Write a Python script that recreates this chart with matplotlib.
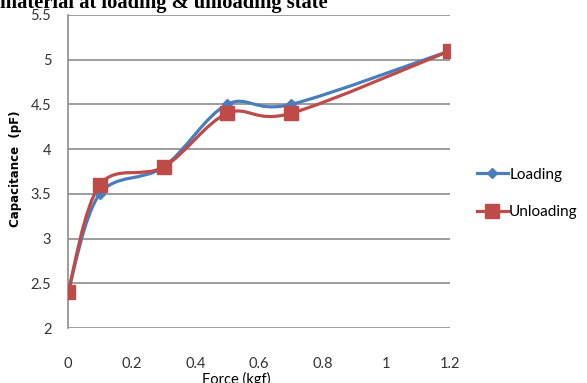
import numpy as np
import matplotlib
matplotlib.use('Agg')
import matplotlib.pyplot as plt
from matplotlib.path import Path
from matplotlib.patches import PathPatch

force = [0, 0.1, 0.3, 0.5, 0.7, 1.2]
loading = [2.4, 3.5, 3.8, 4.5, 4.5, 5.1]
unloading = [2.4, 3.6, 3.8, 4.4, 4.4, 5.1]
xticks = [0, 0.2, 0.4, 0.6, 0.8, 1, 1.2]
yticks = [2, 2.5, 3, 3.5, 4, 4.5, 5, 5.5]


def smooth_path(x, y, t=0.5):
    # bezier segments through the points (excel style smoothed line)
    x = np.asarray(x, float)
    y = np.asarray(y, float)
    n = len(x)
    verts = [(x[0], y[0])]
    codes = [Path.MOVETO]
    for i in range(n - 1):
        p0 = np.array([x[max(i - 1, 0)], y[max(i - 1, 0)]])
        p1 = np.array([x[i], y[i]])
        p2 = np.array([x[i + 1], y[i + 1]])
        p3 = np.array([x[min(i + 2, n - 1)], y[min(i + 2, n - 1)]])
        c1 = p1 + (p2 - p0) * t / 3
        c2 = p2 - (p3 - p1) * t / 3
        verts += [tuple(c1), tuple(c2), tuple(p2)]
        codes += [Path.CURVE4] * 3
    return Path(verts, codes)


fig = plt.figure(figsize=(5.87, 3.83), dpi=100)
ax = fig.add_axes([68 / 587, 1 - 328 / 383, (450 - 68) / 587, (328 - 15) / 383])

blue = '#4a7ebb'
red = '#be4b48'

for yv, col, mk, ms, lab in [(loading, blue, 'D', 5, 'Loading'),
                              (unloading, red, 's', 10, 'Unloading')]:
    ax.add_patch(PathPatch(smooth_path(force, yv), facecolor='none',
                           edgecolor=col, lw=2.3, zorder=3))
    ax.plot(force, yv, linestyle='none', marker=mk, ms=ms, color=col, zorder=4)
    ax.plot([], [], color=col, lw=2.3, marker=mk, ms=ms, label=lab)

ax.set_xlim(0, 1.2)
ax.set_ylim(2, 5.5)
ax.set_xticks(xticks)
ax.set_xticklabels(['0', '0.2', '0.4', '0.6', '0.8', '1', '1.2'])
ax.set_yticks(yticks)
ax.set_yticklabels(['2', '2.5', '3', '3.5', '4', '4.5', '5', '5.5'])
ax.tick_params(length=0, labelsize=10.5, colors='#333333', labelfontfamily='Lato')
ax.tick_params(axis='x', pad=21)
ax.tick_params(axis='y', pad=12)
ax.grid(axis='y', color='#8c8c8c', lw=1.2)
ax.set_axisbelow(True)
for s in ['top', 'right', 'bottom']:
    ax.spines[s].set_visible(False)
ax.spines['left'].set_color('#8c8c8c')
ax.spines['left'].set_linewidth(1.2)

ax.set_ylabel('Capacitance  (pF)', fontsize=8.5, fontweight='bold')
ax.yaxis.set_label_coords(-46 / 382, 0.51)
ax.set_xlabel('Force (kgf)', fontsize=10.5, family='Lato')
ax.xaxis.set_label_coords(168 / 382, -44 / 313)

ax.legend(loc='center left', bbox_to_anchor=(1.035, 0.43), frameon=False,
          handlelength=2.0, handletextpad=0.1, labelspacing=1.55,
          prop={'family': 'Lato', 'size': 11})

fig.text(0.0, 1 - 8 / 383, 'material at loading & unloading state',
         fontsize=14.8, fontweight='bold', family='Liberation Serif',
         va='baseline', ha='left')

fig.savefig('out.png', dpi=100)
